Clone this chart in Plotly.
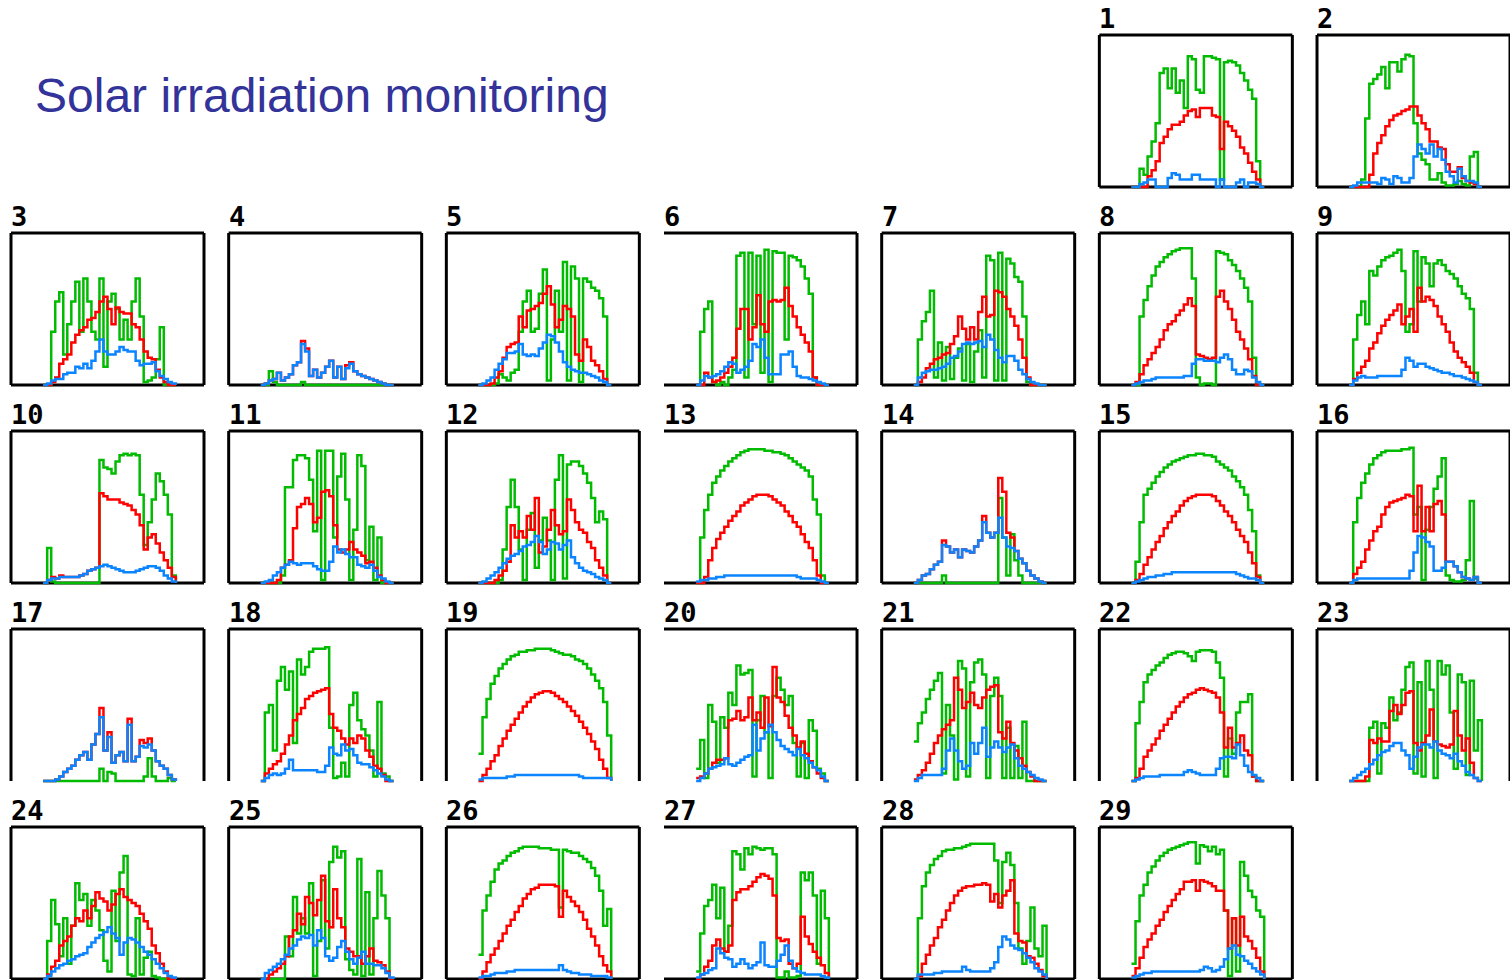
import plotly.graph_objects as go

# ---------------- data ----------------
HOURS = [4.0, 4.5, 5.0, 5.5, 6.0, 6.5, 7.0, 7.5,
         8.0, 8.5, 9.0, 9.5, 10.0, 10.5, 11.0, 11.5,
         12.0, 12.5, 13.0, 13.5, 14.0, 14.5, 15.0, 15.5,
         16.0, 16.5, 17.0, 17.5, 18.0, 18.5, 19.0, 19.5,
         20.0, 20.5]

DAY_LABELS = [str(i) for i in range(1, 30)]
TITLE = "Solar irradiation monitoring"

G01 = [0,0,12,8,20,30,42,75, 78,65,78,62,70,52,86,84, 64,62,86,86,85,84,5,82, 83,82,80,75,70,64,58,17, 0,0]
R01 = [0,0,0,0,7,11,17,29, 33,38,41,41,43,47,50,51, 46,52,52,52,47,46,25,43, 40,37,33,26,22,16,10,5, 0,0]
B01 = [0,0,2,3,5,5,0,0, 0,6,9,8,5,5,5,8, 8,5,5,5,5,0,5,0, 0,0,3,5,0,3,3,2, 0,0]

G02 = [0,0,0,5,45,68,71,74, 79,65,82,82,76,84,87,86, 42,22,18,15,5,5,9,3, 1,1,2,4,2,1,20,23, 0,0]
R02 = [0,0,0,0,0,8,22,29, 34,40,44,47,48,50,51,53, 53,47,42,38,30,30,26,25, 15,10,10,13,6,4,3,2, 0,0]
B02 = [0,1,3,3,3,3,3,2, 6,5,2,7,6,3,3,6, 20,28,25,22,28,20,25,18, 10,7,3,12,7,4,4,3, 0,0]

G03 = [0,0,35,55,61,20,40,55, 68,35,70,55,35,30,70,12, 55,60,50,30,43,30,55,70, 45,2,3,5,17,38,0,0, 0,0]
R03 = [0,0,2,5,14,17,20,28, 33,36,38,43,44,48,55,58, 50,40,51,48,47,47,40,38, 30,22,18,17,10,5,2,0, 0,0]
B03 = [0,1,3,4,4,7,8,8, 12,11,14,11,16,22,30,22, 20,20,22,25,23,22,22,16, 13,14,14,15,9,6,4,2, 1,0]

G04 = [0,0,9,2,0,0,0,0, 0,0,2,0,0,0,0,0, 0,0,0,0,0,0,0,0, 0,0,0,0,0,0,0,0, 0,0]
R04 = [0,1,3,4,8,3,5,7, 13,15,29,24,6,10,5,8, 12,16,5,12,4,13,15,9, 7,6,5,4,3,2,1,0, 0,0]
B04 = [0,1,3,4,8,3,5,7, 13,15,27,22,6,10,5,8, 12,16,5,12,4,11,14,9, 7,6,5,4,3,2,1,0, 0,0]

G05 = [0,0,0,0,1,7,5,3, 8,10,35,55,62,35,37,60, 76,3,30,62,35,81,3,78, 70,2,70,68,64,62,57,45, 0,0]
R05 = [0,0,0,1,5,9,18,25, 27,28,45,38,49,50,52,54, 60,65,53,38,43,52,50,45, 20,16,30,25,16,13,9,4, 0,0]
B05 = [0,1,3,5,10,14,17,21, 21,22,27,20,19,20,19,24, 28,33,32,28,22,15,12,10, 9,8,8,7,6,5,3,2, 0,0]

G06 = [0,35,50,55,2,0,2,0, 5,10,85,87,5,87,40,85, 8,89,2,88,87,87,30,85, 84,82,78,70,60,5,0,0, 0,0]
R06 = [0,0,8,5,2,3,5,8, 12,18,37,50,50,30,38,59, 40,35,55,56,55,56,64,52, 45,38,33,28,22,5,0,0, 0,0]
B06 = [0,3,6,5,6,7,9,12, 15,14,8,10,12,16,27,25, 30,18,7,7,7,20,20,22, 12,6,5,5,4,3,2,1, 0,0]

G07 = [0,30,42,48,62,5,28,3, 25,4,18,24,3,27,2,22, 36,5,85,82,3,87,3,83, 80,71,68,45,2,0,0,0, 0,0]
R07 = [0,2,5,11,14,17,18,20, 21,27,32,45,37,30,38,30, 48,58,45,46,62,61,58,50, 45,39,30,18,5,0,0,0, 0,0]
B07 = [0,5,8,9,10,10,11,12, 14,18,19,22,27,28,27,28, 29,25,33,30,23,18,15,19, 19,16,10,7,4,2,1,0, 0,0]

G08 = [0,0,45,56,65,72,78,81, 84,86,88,89,90,90,90,70, 5,0,1,1,0,88,87,86, 82,79,75,70,64,55,18,0, 0,0]
R08 = [0,2,7,13,17,21,25,30, 36,40,42,46,49,53,57,52, 20,19,18,17,18,58,62,55, 50,43,35,30,24,17,6,0, 0,0]
B08 = [0,1,2,3,3,4,5,5, 5,5,5,5,5,6,6,14, 17,17,16,16,16,15,18,20, 17,10,7,7,10,9,5,2, 0,0]

G09 = [0,30,46,55,40,75,72,78, 82,84,85,87,89,75,35,40, 88,55,84,80,65,80,82,79, 75,73,70,65,60,57,50,8, 0,0]
R09 = [0,4,8,12,16,24,28,34, 39,43,46,49,53,40,45,50, 35,64,55,58,56,52,45,40, 35,28,22,18,15,12,8,2, 0,0]
B09 = [0,3,5,6,5,5,5,6, 6,6,6,6,6,10,18,16, 12,14,14,12,11,10,9,8, 8,7,6,6,5,4,3,2, 0,0]

G10 = [0,23,1,0,0,0,0,0, 0,0,0,0,0,0,81,76, 75,72,80,84,85,84,85,84, 58,25,40,55,72,67,58,45, 5,0]
R10 = [0,2,4,3,5,4,4,4, 4,5,6,8,9,10,59,57, 55,55,55,53,52,51,48,45, 38,22,30,32,26,20,15,10, 4,0]
B10 = [0,2,3,3,4,4,4,4, 4,5,6,8,9,10,11,12, 11,10,9,8,7,7,7,8, 9,10,11,11,10,8,5,3, 1,0]

G11 = [0,0,0,0,0,5,63,63, 81,84,84,82,68,34,87,2, 87,87,30,70,85,55,2,35, 84,77,15,37,2,30,0,0, 0,0]
R11 = [0,0,0,0,2,10,12,15, 36,50,52,56,52,40,43,60, 61,57,38,22,20,22,27,22, 20,18,13,14,10,5,2,0, 0,0]
B11 = [0,1,2,5,7,10,12,14, 13,12,13,13,13,11,9,8, 8,14,24,20,22,19,17,17, 12,11,10,12,8,4,3,1, 0,0]

G12 = [0,0,0,0,0,2,22,50, 68,50,22,2,35,46,10,28, 43,28,2,68,84,3,78,80, 80,77,72,66,56,40,47,42, 0,0]
R12 = [0,0,0,0,2,5,8,14, 38,30,34,30,44,35,56,20, 24,35,48,38,32,34,55,48, 40,35,33,27,23,15,10,5, 0,0]
B12 = [0,1,3,5,7,10,13,16, 18,19,21,24,25,27,31,27, 19,22,27,26,22,25,28,17, 13,10,8,7,6,4,3,2, 0,0]

G13 = [0,30,48,58,66,70,74,77, 80,82,84,86,87,88,88,88, 88,87,87,86,86,85,84,82, 80,78,76,74,70,55,45,5, 0,0]
R13 = [0,0,4,15,23,29,33,37, 41,44,47,51,53,55,57,58, 58,58,57,55,53,51,47,44, 40,37,32,27,23,15,5,0, 0,0]
B13 = [1,2,2,3,3,4,4,5, 5,5,5,5,5,5,5,5, 5,5,5,5,5,5,5,5, 5,4,3,3,3,3,2,1, 0,0]

G14 = [0,0,0,0,0,0,0,5, 0,0,0,0,0,0,0,0, 0,0,0,0,0,56,30,5, 32,15,5,0,0,0,0,0, 0,0]
R14 = [0,2,5,6,9,12,14,28, 24,20,22,17,22,21,20,24, 28,44,33,30,33,69,60,33, 30,21,16,13,8,5,3,1, 0,0]
B14 = [0,2,5,6,9,12,14,25, 24,20,22,17,22,21,20,24, 28,40,33,30,33,43,30,24, 23,21,16,13,8,5,3,1, 0,0]

G15 = [0,14,40,58,62,66,70,73, 76,78,80,81,82,83,84,84, 85,85,84,84,83,80,78,76, 74,70,67,63,58,48,34,5, 0,0]
R15 = [0,2,6,12,17,22,27,31, 36,40,44,47,51,54,56,57, 58,58,58,58,57,54,51,47, 44,40,35,31,27,20,13,4, 0,0]
B15 = [0,1,2,3,4,4,5,5, 6,6,7,7,7,7,7,7, 7,7,7,7,7,7,7,7, 7,7,6,5,4,3,3,2, 0,0]

G16 = [0,40,56,66,72,78,82,84, 86,87,87,87,87,88,88,89, 45,50,2,35,50,62,70,82, 5,2,1,1,2,15,54,3, 0,0]
R16 = [0,6,10,14,22,28,34,37, 45,50,53,54,55,56,58,57, 34,64,34,50,34,52,54,45, 14,14,11,7,4,3,2,4, 0,0]
B16 = [0,2,3,3,3,3,3,3, 3,3,3,3,3,3,3,8, 20,31,30,27,24,8,8,10, 14,14,11,7,4,3,2,4, 0,0]

G17 = [0,0,0,0,0,0,0,0, 0,0,0,0,0,0,8,0, 6,5,0,0,0,0,0,0, 0,3,15,3,0,0,0,2, 0,0]
R17 = [0,0,0,1,3,6,8,10, 14,17,19,14,24,31,48,20, 32,12,17,19,13,41,13,16, 27,25,28,20,13,10,8,4, 1,0]
B17 = [0,0,0,1,3,6,8,10, 14,17,19,14,24,31,42,20, 29,12,17,19,13,37,13,16, 23,22,24,20,13,10,8,4, 1,0]

G18 = [0,45,50,20,66,75,60,72, 25,80,70,75,85,87,87,87, 88,35,2,3,12,3,50,58, 40,34,30,20,3,52,5,3, 0,0]
R18 = [0,5,8,11,13,18,24,30, 40,44,48,54,56,58,59,60, 61,44,35,33,28,24,28,25, 30,28,20,16,10,8,4,0, 0,0]
B18 = [0,2,4,5,4,5,8,14, 7,7,7,7,7,7,6,6, 10,22,18,17,24,20,21,17, 12,11,11,9,7,5,3,1, 0,0]

G19 = [18,42,54,64,69,74,77,80, 82,83,85,85,86,86,87,87, 87,87,86,85,84,83,83,82, 80,79,77,74,70,66,61,52, 30,0]
R19 = [0,4,8,13,17,23,28,33, 37,41,45,49,52,55,57,58, 59,59,58,56,54,52,49,46, 43,39,35,31,26,21,14,8, 2,0]
B19 = [1,2,2,2,2,2,2,3, 3,4,4,4,4,4,4,4, 4,4,4,4,4,4,4,4, 4,3,2,2,2,2,2,2, 2,0]

G20 = [8,27,2,50,39,12,42,35, 58,50,76,70,71,73,3,40, 56,32,2,56,68,60,50,56, 25,3,25,2,40,33,8,5, 0,0]
R20 = [2,3,5,8,12,14,14,15, 40,41,46,40,42,55,40,45, 35,55,36,75,55,52,43,35, 30,22,26,18,13,9,5,2, 0,0]
B20 = [0,2,5,8,9,10,11,15, 11,10,12,14,16,17,37,20, 28,32,37,32,27,23,21,19, 17,21,17,15,12,9,7,3, 0,0]

G21 = [26,38,45,54,60,66,71,5, 50,30,1,79,74,3,65,78, 80,70,2,56,68,56,2,35, 2,23,2,39,0,0,0,0, 0,0]
R21 = [1,4,7,12,18,25,30,34, 37,40,68,60,48,52,58,50, 48,55,60,62,63,32,28,39, 25,20,15,10,6,3,0,0, 0,0]
B21 = [0,2,4,4,4,4,4,8, 20,28,20,13,8,10,25,18, 25,35,16,22,26,22,19,22, 24,15,10,8,6,4,2,1, 0,0]

G22 = [0,38,52,65,70,73,76,78, 81,83,84,85,85,84,82,79, 85,86,86,86,85,78,68,3, 28,18,45,52,52,57,3,0, 0,0]
R22 = [0,2,8,16,20,24,28,33, 37,41,45,49,52,55,57,58, 60,61,60,59,58,55,45,22, 35,22,25,30,20,17,3,0, 0,0]
B22 = [0,1,2,3,3,3,3,4, 4,4,4,4,4,6,7,6, 5,4,4,4,4,8,15,16, 16,15,24,17,10,6,4,2, 0,0]

G23 = [0,0,0,0,0,35,39,5, 38,35,55,40,45,60,75,78, 5,65,3,79,60,2,79,70, 76,45,8,70,65,4,66,20, 40,0]
R23 = [0,0,0,0,3,27,25,28, 26,26,46,50,44,50,58,59, 25,20,25,30,47,26,24,23, 22,24,46,30,20,28,12,2, 0,0]
B23 = [0,2,4,6,8,11,14,17, 19,20,23,25,25,20,17,8, 16,22,24,24,22,26,20,18, 17,15,18,13,10,6,4,2, 0,0]

G24 = [0,25,52,36,15,40,10,35, 63,52,56,35,52,45,32,12, 5,58,25,70,81,3,2,40, 3,14,18,2,1,0,0,0, 0,0]
R24 = [0,3,8,12,22,25,28,35, 40,38,45,40,48,57,53,51, 45,49,56,59,54,52,50,48, 43,38,33,22,17,10,5,0, 0,0]
B24 = [0,2,5,7,9,10,12,13, 15,16,17,21,24,27,29,31, 34,30,27,16,24,27,26,24, 21,18,16,13,10,7,4,2, 1,0]

G25 = [0,0,0,0,0,0,28,15, 54,30,40,30,63,2,25,65, 20,77,87,80,84,13,6,3, 79,2,57,3,40,71,55,40, 0,0]
R25 = [0,0,3,5,7,10,15,28, 32,43,36,54,50,42,52,68, 38,34,59,40,34,20,18,15, 15,10,15,20,12,11,9,5, 0,0]
B25 = [0,4,6,8,10,13,16,20, 22,26,28,27,29,22,32,27, 15,12,14,21,25,18,13,10, 14,18,10,10,9,9,7,4, 1,0]

G26 = [16,45,55,64,72,76,78,81, 83,84,86,87,87,87,87,86, 86,86,85,85,47,85,84,83, 83,81,79,77,73,68,58,35, 46,0]
R26 = [0,5,11,16,20,25,30,35, 39,44,48,53,56,59,60,62, 62,62,62,61,41,58,54,51, 48,44,39,33,28,22,15,9, 5,0]
B26 = [1,2,2,3,4,4,4,5, 5,6,6,6,6,6,6,6, 6,6,6,6,9,6,5,4, 4,3,3,3,2,2,2,2, 1,0]

G27 = [5,30,48,52,62,40,60,18, 35,84,82,72,86,82,87,86, 85,86,86,82,1,1,5,1, 1,2,70,65,70,55,10,58, 40,0]
R27 = [0,3,8,12,22,26,20,18, 22,52,57,59,59,61,64,67, 69,68,66,55,27,25,26,10, 7,10,41,28,23,18,14,9, 4,0]
B27 = [1,3,4,6,7,20,17,14, 13,8,10,13,10,7,9,11, 24,9,8,8,12,16,22,12, 7,5,4,3,3,3,3,2, 1,0]

G28 = [0,40,61,70,75,79,81,84, 85,85,86,86,87,88,89,89, 89,89,89,89,78,50,77,83, 75,50,20,10,25,47,20,15, 35,0]
R28 = [0,2,10,16,22,27,34,39, 45,50,55,58,60,61,61,62, 62,63,62,51,56,47,55,58, 65,30,25,24,15,14,10,6, 2,0]
B28 = [0,3,3,3,3,4,4,5, 5,5,5,5,8,6,5,5, 5,5,5,7,11,21,28,26, 22,20,19,17,14,11,7,5, 3,0]

G29 = [10,38,55,62,70,74,78,81, 83,85,86,87,88,89,90,90, 76,88,87,84,87,82,85,45, 2,40,5,77,68,58,54,45, 41,0]
R29 = [2,7,14,21,26,30,35,39, 44,48,52,56,59,64,64,65, 58,65,64,63,61,58,58,45, 20,40,22,41,28,25,20,14, 5,0]
B29 = [1,2,3,4,4,5,5,5, 5,5,5,5,5,5,5,5, 5,6,8,7,5,6,8,13, 20,22,16,15,12,10,7,5, 3,0]

GREEN = [G01, G02, G03, G04, G05, G06, G07, G08, G09, G10, G11, G12, G13, G14, G15,
         G16, G17, G18, G19, G20, G21, G22, G23, G24, G25, G26, G27, G28, G29]
RED = [R01, R02, R03, R04, R05, R06, R07, R08, R09, R10, R11, R12, R13, R14, R15,
       R16, R17, R18, R19, R20, R21, R22, R23, R24, R25, R26, R27, R28, R29]
BLUE = [B01, B02, B03, B04, B05, B06, B07, B08, B09, B10, B11, B12, B13, B14, B15,
        B16, B17, B18, B19, B20, B21, B22, B23, B24, B25, B26, B27, B28, B29]

# ---------------- layout ----------------
W, H = 1510, 980
COL_LEFT = [11 + 217.67 * c for c in range(7)]
ROW_TOP = [35 + 198 * r for r in range(5)]
BOX_W = 193
BOX_H = 152
FIRST_WEEKDAY = 5          # day 1 sits in the 6th column
PAD = 3                    # px below baseline so zero lines are not clipped

COLORS = {"g": "#00bb00", "r": "#ff0000", "b": "#0a84ff"}

fig = go.Figure()
layout = {}
shapes = []
annotations = []


def px_x(v):
    return min(max(v / W, 0.0), 1.0)


def px_y(v):
    return min(max(1 - v / H, 0.0), 1.0)


for d in range(29):
    idx = d + FIRST_WEEKDAY
    r, c = divmod(idx, 7)
    x0 = COL_LEFT[c]
    x1 = x0 + BOX_W
    x1c = min(x1, W)
    yt = ROW_TOP[r]
    yb = yt + BOX_H
    ext = min(PAD, H - yb)
    n = d + 1
    sfx = "" if n == 1 else str(n)
    layout["xaxis" + sfx] = dict(domain=[px_x(x0), px_x(x1c)],
                                 range=[0, 24 * (x1c - x0) / BOX_W], visible=False,
                                 fixedrange=True, anchor="y" + sfx)
    layout["yaxis" + sfx] = dict(domain=[px_y(yb + ext), px_y(yt)],
                                 range=[-ext * 100 / BOX_H, 100],
                                 visible=False, fixedrange=True, anchor="x" + sfx)
    for series, col in ((GREEN[d], "g"), (RED[d], "r"), (BLUE[d], "b")):
        fig.add_trace(go.Scatter(x=HOURS, y=series, mode="lines",
                                 line=dict(color=COLORS[col], width=2.5, shape="hv"),
                                 xaxis="x" + sfx, yaxis="y" + sfx,
                                 showlegend=False, hoverinfo="skip"))
    # frame
    segs = [((x0, yt), (x1, yt)), ((x1, yt), (x1, yb))]
    if c != 3:
        segs.append(((x0, yt), (x0, yb)))
    if r != 3:
        segs.append(((x0, yb), (x1, yb)))
    for (ax_, ay_), (bx_, by_) in segs:
        shapes.append(dict(type="line", xref="paper", yref="paper",
                           x0=px_x(ax_), y0=px_y(ay_), x1=px_x(bx_), y1=px_y(by_),
                           line=dict(color="black", width=3), layer="below"))
    annotations.append(dict(text="<b>" + DAY_LABELS[d] + "</b>", xref="paper", yref="paper",
                            x=px_x(x0 - 2), y=px_y(yt + 1), xanchor="left", yanchor="bottom",
                            showarrow=False,
                            font=dict(family="DejaVu Sans Mono", size=27, color="black")))

annotations.append(dict(text=TITLE, xref="paper", yref="paper", x=px_x(33), y=px_y(96),
                        xanchor="left", yanchor="middle", showarrow=False,
                        font=dict(family="Liberation Sans, Arial, sans-serif", size=48,
                                  color="#333399")))

fig.update_layout(width=W, height=H, autosize=False,
                  margin=dict(l=0, r=0, t=0, b=0, pad=0),
                  paper_bgcolor="white", plot_bgcolor="rgba(0,0,0,0)",
                  shapes=shapes, annotations=annotations, **layout)

fig.write_html("out.html", config={"displayModeBar": False})
